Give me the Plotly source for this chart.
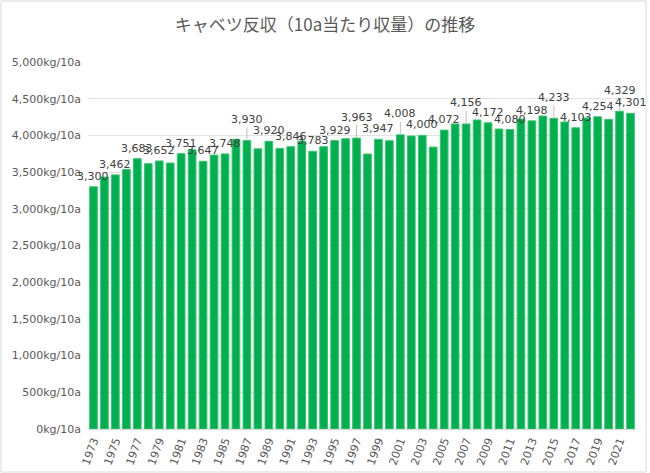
import plotly.graph_objects as go

# キャベツ 10a当たり収量 (kg/10a)
years = list(range(1973, 2023))
yields = [3300, 3432, 3462, 3536, 3683, 3614, 3652, 3623, 3751, 3805,
          3647, 3732, 3748, 3946, 3930, 3818, 3920, 3823, 3846, 3923,
          3783, 3846, 3929, 3955, 3963, 3746, 3947, 3928, 4008, 3991,
          4000, 3841, 4072, 4155, 4156, 4210, 4172, 4087, 4080, 4223,
          4198, 4264, 4233, 4183, 4103, 4237, 4254, 4219, 4329, 4301]

# labels shown on odd years + last year; some are lifted with a leader line
label_years = list(range(1973, 2022, 2)) + [2022]
lifted_years = [1987, 1997, 2001, 2007, 2015, 2021]

tick_years = list(range(1973, 2022, 2))
y_ticks = list(range(0, 5001, 500))
y_ticktext = ["{:,}kg/10a".format(v) for v in y_ticks]

FONT = "DejaVu Sans"

fig = go.Figure()
fig.add_trace(go.Bar(
    x=years,
    y=yields,
    marker=dict(color="#00B050", line=dict(color="#3CC46E", width=1)),
    width=0.7,
    hoverinfo="x+y",
))

for yr, val in zip(years, yields):
    if yr not in label_years:
        continue
    txt = "{:,}".format(val)
    if yr in lifted_years:
        fig.add_annotation(
            x=yr, y=val, text=txt,
            showarrow=True, arrowhead=0, arrowwidth=1, arrowcolor="#BFBFBF",
            ax=0, ay=-21, standoff=0,
            font=dict(family=FONT, size=11, color="#404040"),
        )
    else:
        fig.add_annotation(
            x=yr, y=val, text=txt,
            showarrow=False, yanchor="bottom", yshift=2,
            font=dict(family=FONT, size=11, color="#404040"),
        )

fig.update_layout(
    width=650, height=473,
    margin=dict(l=88, r=14, t=62, b=44),
    paper_bgcolor="white",
    plot_bgcolor="white",
    showlegend=False,
    title=dict(
        text="キャベツ反収（10a当たり収量）の推移",
        x=0.5, xanchor="center", y=0.947, yanchor="middle",
        font=dict(family="Noto Sans CJK JP", size=17, color="#595959"),
    ),
    font=dict(family=FONT, size=11, color="#595959"),
)

fig.update_xaxes(
    range=[1972.5, 2022.5],
    tickvals=tick_years,
    ticktext=[str(y) for y in tick_years],
    tickangle=-70,
    automargin=False,
    showgrid=False,
    showline=True, linecolor="#D9D9D9", linewidth=1,
    ticks="", tickfont=dict(family=FONT, size=11, color="#595959"),
)
fig.update_yaxes(
    range=[0, 5000],
    tickvals=y_ticks,
    ticktext=y_ticktext,
    automargin=False,
    showgrid=True, gridcolor="#E3E3E3", gridwidth=1,
    zeroline=False,
    ticks="", ticklabelstandoff=6,
    tickfont=dict(family=FONT, size=11, color="#595959"),
)

# chart border like the spreadsheet chart area
fig.add_shape(type="rect", xref="paper", yref="paper",
              x0=-87 / 548, x1=1 + 10 / 548, y0=-43 / 367, y1=1 + 61 / 367,
              line=dict(color="#D9D9D9", width=1), fillcolor="rgba(0,0,0,0)",
              layer="below")

fig.write_html("out.html", config={"displayModeBar": False},
               post_script="document.body.style.margin='0';")
